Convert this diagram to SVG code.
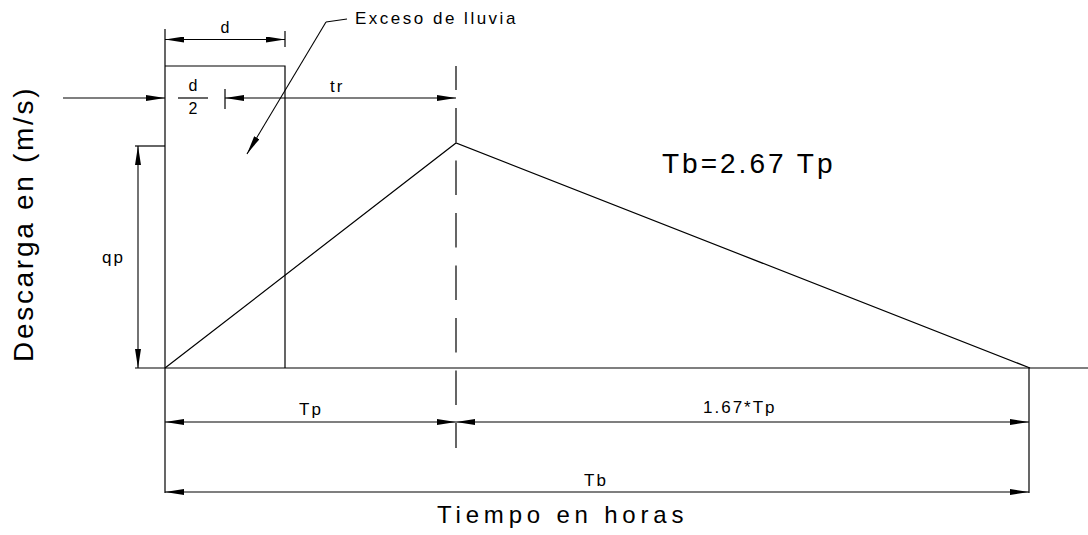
<svg xmlns="http://www.w3.org/2000/svg" width="1088" height="535" viewBox="0 0 1088 535">
<style>
.ln{stroke:#000;stroke-width:1.2;fill:none}
.dim{stroke:#000;stroke-width:1.1;fill:none;marker-start:url(#ah);marker-end:url(#ah)}
.one{stroke:#000;stroke-width:1.1;fill:none;marker-end:url(#ah)}
.dash{stroke:#000;stroke-width:1.2;fill:none;stroke-dasharray:34.5 18;stroke-dashoffset:10.5}
text{font-family:"Liberation Sans",Arial,sans-serif;fill:#000}
.lbl{font-size:17px;letter-spacing:2px}
.sm{font-size:16px}
.big{font-size:28px;letter-spacing:3px}
.ax{font-size:24px;letter-spacing:4.8px}
.axv{font-size:28px;letter-spacing:2.7px}
</style>
<defs>
<marker id="ah" viewBox="0 0 19 6" refX="19" refY="3" markerWidth="19" markerHeight="6" markerUnits="userSpaceOnUse" orient="auto-start-reverse">
<path d="M0,0 L19,3 L0,6 z" fill="#000"/>
</marker>
</defs>
<rect width="1088" height="535" fill="#fff"/>
<g id="hydrograph">
<line class="ln" x1="135" y1="368" x2="1088" y2="368"/>
<line class="ln" x1="165" y1="29" x2="165" y2="493"/>
<polyline class="ln" points="165,368 456,143 1030,368"/>
<line class="dash" x1="456" y1="66" x2="456" y2="448"/>
<line class="ln" x1="1029" y1="368" x2="1029" y2="493"/>
</g>
<g id="rain-excess">
<polyline class="ln" points="165,66 285,66 285,368"/>
</g>
<g id="connectors">
<line class="dim" x1="165" y1="39.5" x2="285" y2="39.5"/>
<line class="ln" x1="285" y1="31" x2="285" y2="47"/>
<line class="one" x1="63" y1="98" x2="165" y2="98"/>
<line class="ln" x1="225" y1="89" x2="225" y2="109"/>
<line class="dim" x1="225" y1="98" x2="456" y2="98"/>
<line class="ln" x1="178" y1="98" x2="208" y2="98"/>
<line class="ln" x1="135" y1="146" x2="165" y2="146"/>
<line class="dim" x1="138" y1="146" x2="138" y2="368"/>
<polyline class="ln" points="347,19 326,22"/>
<line class="one" x1="326" y1="22" x2="247" y2="154"/>
<line class="dim" x1="165" y1="422" x2="456" y2="422"/>
<line class="dim" x1="456" y1="422" x2="1029" y2="422"/>
<line class="dim" x1="165" y1="492" x2="1029" y2="492"/>
</g>
<g id="labels">
<text class="sm" x="225" y="33" text-anchor="middle">d</text>
<text class="sm" x="193" y="91" text-anchor="middle">d</text>
<text class="sm" x="193" y="114" text-anchor="middle">2</text>
<text class="lbl" x="330" y="92">tr</text>
<text class="lbl" x="102" y="263">qp</text>
<text class="lbl" x="355" y="24" style="letter-spacing:2.5px">Exceso de lluvia</text>
<text class="big" x="662" y="173">Tb=2.67 Tp</text>
<text class="lbl" x="299" y="415">Tp</text>
<text class="lbl" x="703" y="413">1.67*Tp</text>
<text class="lbl" x="584" y="486">Tb</text>
<text class="ax" x="437" y="523">Tiempo en horas</text>
<text class="axv" x="33" y="362" transform="rotate(-90 33 362)">Descarga en (m/s)</text>
</g>
</svg>
